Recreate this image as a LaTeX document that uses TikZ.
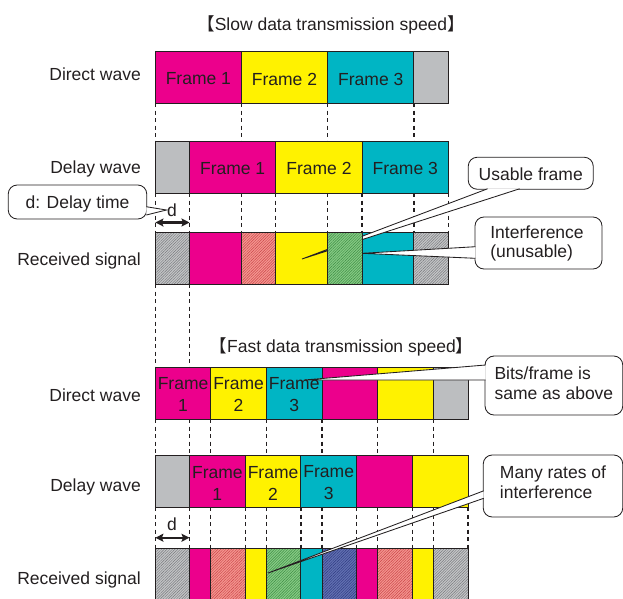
\documentclass[tikz,border=0pt]{standalone}
\usepackage{fontspec}
\setmainfont{Liberation Sans}
\newfontfamily\cjkfont{Noto Sans CJK SC}
\usetikzlibrary{patterns.meta,arrows.meta,calc}

% frame colours
\definecolor{fmag}{HTML}{EC008C}
\definecolor{fyel}{HTML}{FFF200}
\definecolor{fcya}{HTML}{00B5C4}
\definecolor{fgry}{HTML}{BCBEC0}
% hatched (interfered) colours: base and line
\definecolor{hgry}{HTML}{C4C5C7}
\definecolor{hgryl}{HTML}{76787B}
\definecolor{hred}{HTML}{F4958F}
\definecolor{hredl}{HTML}{CA4448}
\definecolor{hgrn}{HTML}{86CA84}
\definecolor{hgrnl}{HTML}{3C8C43}
\definecolor{hblu}{HTML}{6270B2}
\definecolor{hblul}{HTML}{2E3A80}
\definecolor{ink}{HTML}{231F20}

\tikzset{
  txt/.style={font=\fontsize{17.5}{20}\selectfont, text=ink, inner sep=0pt},
  frm/.style={draw=ink, line width=0.9pt},
  fm/.style={fill=fmag},
  fy/.style={fill=fyel},
  fc/.style={fill=fcya},
  fg/.style={fill=fgry},
  hatch/.style 2 args={preaction={fill=#1},
    pattern={Lines[angle=45,distance=1.9pt,line width=0.45pt]}, pattern color=#2},
  hg/.style={hatch={hgry}{hgryl}},
  hr/.style={hatch={hred}{hredl}},
  hn/.style={hatch={hgrn}{hgrnl}},
  hb/.style={hatch={hblu}{hblul}},
  guide/.style={draw=ink, line width=1.25pt, dash pattern=on 4pt off 3.5pt},
  cbox/.style={draw=ink, fill=white, line width=0.85pt, rounded corners=9pt, inner sep=0pt},
  ctext/.style={txt, align=left},
  twoline/.style={txt, align=center, font=\fontsize{17.5}{22}\selectfont},
  darrow/.style={draw=ink, line width=2.1pt,
    {Stealth[length=8pt,width=8pt,inset=1.5pt]}-{Stealth[length=8pt,width=8pt,inset=1.5pt]}},
}

% white pointer of a callout; its root opens the box outline
\newcommand\calloutptr[3]{%
  \fill[white] (#1) -- (#2) -- (#3) -- cycle;
  \draw[ink, line width=0.85pt, line join=miter] (#1) -- (#2) -- (#3);}

\begin{document}
\begin{tikzpicture}[x=1pt,y=-1pt]
\useasboundingbox (0,0) rectangle (623,598);
\clip (0,0) rectangle (623,598);

% ================= slow transmission =================
\node[txt, anchor=base] (tSlow) at (331,30.5)
  {{\cjkfont 【}Slow data transmission speed{\cjkfont 】}};

\node[txt, anchor=base east] (lDirS) at (141,80) {Direct wave};
\node[txt, anchor=base east] (lDelS) at (141,173) {Delay wave};
\node[txt, anchor=base east] (lRecS) at (141,265.5) {Received signal};

% direct wave
\foreach \a/\b/\st in {155.4/241.3/fm, 241.3/327.6/fy, 327.6/413.9/fc, 413.9/448.4/fg}
  \path[frm,\st] (\a,51) rectangle (\b,103);
% delay wave
\foreach \a/\b/\st in {155.4/189.5/fg, 189.5/275.8/fm, 275.8/362.1/fy, 362.1/448.4/fc}
  \path[frm,\st] (\a,141) rectangle (\b,193);
% received signal
\foreach \a/\b/\st in {155.4/189.5/hg, 189.5/241.3/fm, 241.3/275.8/hr, 275.8/327.6/fy,
                       327.6/362.1/hn, 362.1/413.9/fc, 413.9/448.4/hg}
  \path[frm,\st] (\a,232) rectangle (\b,284);

% time guides
\foreach \x in {155.4,241.3,327.6,413.9}
  \draw[guide] (\x,103) -- (\x,141);
\foreach \x in {155.4,189.5,241.3,275.8,327.6,362.1,413.9,448.4}
  \draw[guide] (\x,193) -- (\x,232);
\foreach \x in {155.4,189.5}
  \draw[guide] (\x,284) -- (\x,367);

% frame labels
\foreach \c/\t in {198.35/1, 284.45/2, 370.75/3}
  \node[txt] (sdir\t) at (\c,79) {Frame \t};
\foreach \c/\t in {232.65/1, 318.95/2, 405.25/3}
  \node[txt] (sdel\t) at (\c,168.5) {Frame \t};

% delay time marker
\coordinate (dSa) at (155.4,222.5);
\coordinate (dSb) at (189.5,222.5);
\draw[darrow] (dSa) -- (dSb);
\node[txt, anchor=base] (dS) at (172,216) {d};

% callouts of the slow part
\node[cbox, minimum width=138.5pt, minimum height=34pt] (cDelay) at (77.5,202) {};
\node[cbox, minimum width=125pt, minimum height=32pt] (cUsable) at (530.75,173.25) {};
\node[cbox, minimum width=127pt, minimum height=52pt] (cInterf) at (538.5,243) {};

\coordinate (tipDelay) at (166.5,210);
\coordinate (tipUsable) at (302,259);
\coordinate (tipInterf) at (362.1,253.3);

\calloutptr{$(cDelay.east)+(-0.9,4.7)$}{tipDelay}{$(cDelay.east)+(-0.9,13)$}
\calloutptr{$(cUsable.south west)+(19.75,-0.9)$}{tipUsable}{$(cUsable.south west)+(51.75,-0.9)$}
\calloutptr{$(cInterf.west)+(0.9,3.7)$}{tipInterf}{$(cInterf.west)+(0.9,15.3)$}

% the interfered Frame 2 slot lies above the pointer
\path[frm,hn] (327.6,232) rectangle (362.1,284);

\node[ctext, anchor=base] (tDelay) at (77.5,208.3) {d: Delay time};
\node[ctext, anchor=base] (tUsable) at (530.75,180) {Usable frame};
\node[ctext, font=\fontsize{17.5}{19}\selectfont] (tInterf) at (537,243.2)
  {Interference\\(unusable)};

% ================= fast transmission =================
\node[txt, anchor=base] (tFast) at (341.5,352.5)
  {{\cjkfont 【}Fast data transmission speed{\cjkfont 】}};

\node[txt, anchor=base east] (lDirF) at (141,401) {Direct wave};
\node[txt, anchor=base east] (lDelF) at (141,491.5) {Delay wave};
\node[txt, anchor=base east] (lRecF) at (141,584) {Received signal};

% direct wave
\foreach \a/\b/\st in {155.4/210.7/fm, 210.7/266.4/fy, 266.4/322.1/fc,
                       322.1/377.8/fm, 377.8/433.5/fy, 433.5/468/fg}
  \path[frm,\st] (\a,367) rectangle (\b,419);
% delay wave
\foreach \a/\b/\st in {155.4/189.5/fg, 189.5/245.2/fm, 245.2/300.9/fy,
                       300.9/356.6/fc, 356.6/412.3/fm, 412.3/468/fy}
  \path[frm,\st] (\a,455) rectangle (\b,507);
% received signal
\foreach \a/\b/\st in {155.4/189.5/hg, 189.5/210.7/fm, 210.7/245.2/hr, 245.2/266.4/fy,
                       266.4/300.9/hn, 300.9/322.1/fc, 322.1/356.6/hb, 356.6/377.8/fm,
                       377.8/412.3/hr, 412.3/433.5/fy, 433.5/468/hg}
  \path[frm,\st] (\a,548) rectangle (\b,601);

% time guides
\foreach \x in {155.4,189.5,210.7,266.4,322.1,377.8,433.5}
  \draw[guide] (\x,419) -- (\x,455);
\foreach \x in {155.4,189.5,210.7,245.2,266.4,300.9,322.1,356.6,377.8,412.3,433.5,468}
  \draw[guide] (\x,507) -- (\x,548);

% delay time marker
\coordinate (dFa) at (155.4,537.7);
\coordinate (dFb) at (189.5,537.7);
\draw[darrow] (dFa) -- (dFb);
\node[txt, anchor=base] (dF) at (172,530.5) {d};

% callouts of the fast part
\node[cbox, minimum width=137.7pt, minimum height=59pt] (cBits) at (553.9,385.5) {};
\node[cbox, minimum width=139.5pt, minimum height=62pt] (cMany) at (553,486) {};

\coordinate (tipBits) at (304,380);
\coordinate (tipMany) at (268,573);
\calloutptr{$(cBits.west)+(0.9,-20.5)$}{tipBits}{$(cBits.west)+(0.9,-5.5)$}
\calloutptr{$(cMany.west)+(0.9,4.8)$}{tipMany}{$(cMany.west)+(0.9,12.3)$}

\node[ctext] (tBits) at (553.9,383.6) {Bits/frame is\\same as above};
\node[ctext] (tMany) at (553,481.9) {Many rates of\\interference};

% frame labels
\foreach \c/\t in {183.05/1, 238.55/2, 294.25/3}
  \node[twoline] (fdir\t) at (\c,394.75) {Frame\\\t};
\foreach \c/\t in {217.35/1, 273.05/2, 328.75/3}
  \node[twoline] (fdel\t) at (\c,483) {Frame\\\t};

\end{tikzpicture}
\end{document}
